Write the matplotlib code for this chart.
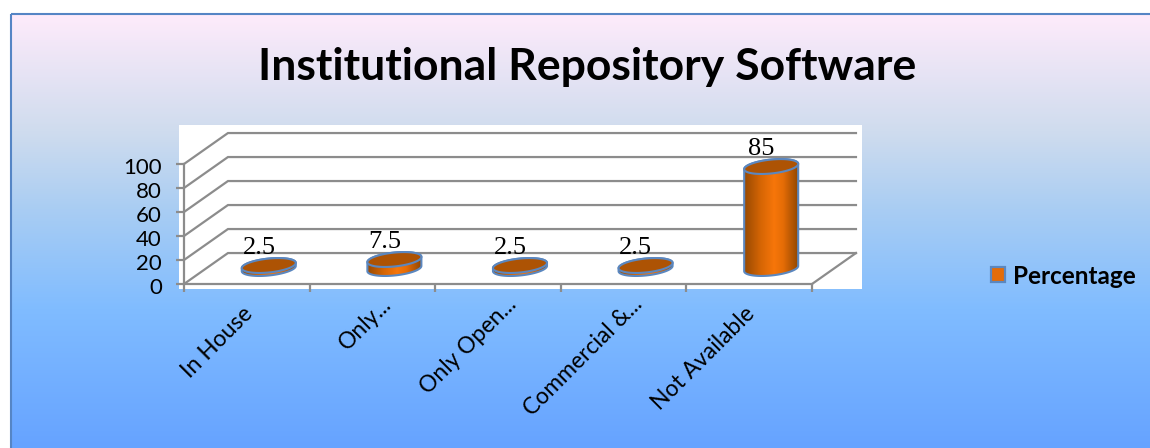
import numpy as np
import matplotlib
matplotlib.use("Agg")
import matplotlib.pyplot as plt
from matplotlib.colors import LinearSegmentedColormap
from matplotlib.patches import Rectangle, Polygon, Patch
from matplotlib.transforms import ScaledTranslation

categories = ["In House", "Only...", "Only Open...", "Commercial &...", "Not Available"]
values = [2.5, 7.5, 2.5, 2.5, 85]
value_labels = ["2.5", "7.5", "2.5", "2.5", "85"]
y_ticks = [0, 20, 40, 60, 80, 100]
series_name = "Percentage"
title = "Institutional Repository Software"

W, H = 1150, 448
SANS = "Lato"
SERIF = "Liberation Serif"
GRID = "#8c8c8c"
EDGE = "#5b87bf"

fig = plt.figure(figsize=(W / 100, H / 100), dpi=100, facecolor="white")

# background panel, in pixel coordinates
bg = fig.add_axes([0, 0, 1, 1])
bg.set_xlim(0, W)
bg.set_ylim(H, 0)
bg.axis("off")
grad = LinearSegmentedColormap.from_list(
    "panel",
    [(0, "#feebfb"), (0.27, "#cfdcee"), (0.45, "#a9cdf3"), (0.68, "#80bcff"), (1, "#66a3ff")],
)
bg.imshow(np.linspace(0, 1, 256)[:, None], cmap=grad, aspect="auto",
          extent=(11, W, H, 14), zorder=1)
bg.set_xlim(0, W)
bg.set_ylim(H, 0)
bg.add_patch(Rectangle((11, 14), W + 20, H + 20, fill=False, ec="#5585c5", lw=1.5, zorder=2))
bg.add_patch(Rectangle((179, 125), 683, 164, fc="white", ec="none", zorder=3))

fig.text(587 / W, 1 - 67 / H, title, ha="center", va="center", fontsize=32,
         fontweight="bold", family=SANS, color="black")

# front plane of the 3-D box
ax = fig.add_axes([184 / W, 1 - 284 / H, 628 / W, 120 / H])
ax.patch.set_alpha(0)
for s in ("top", "right"):
    ax.spines[s].set_visible(False)
for s in ("left", "bottom"):
    ax.spines[s].set_color(GRID)
    ax.spines[s].set_linewidth(1.6)

DX, DY = 0.35, 25.8   # depth vector in data units
X0, X1 = -0.5, len(categories) - 0.5

for v in y_ticks:
    ax.plot([X0, X0 + DX, X1 + DX], [v, v + DY, v + DY], color=GRID, lw=1.6,
            clip_on=False, zorder=1, solid_joinstyle="miter")
ax.plot([X1, X1 + DX], [0, DY], color=GRID, lw=1.6, clip_on=False, zorder=1)

cyl = LinearSegmentedColormap.from_list(
    "cyl", [(0, "#984a02"), (0.3, "#d56504"), (0.55, "#f7760a"), (0.72, "#e56c06"), (1, "#8f4602")])
HW, HH, TILT = 0.215, 5.8, 2.2
t = np.linspace(0, 2 * np.pi, 181)
for i, (v, lab) in enumerate(zip(values, value_labels)):
    cx = i + DX / 2
    base = DY / 2
    top = base + v
    ex = cx + HW * np.cos(t)
    ey = HH * np.sin(t) + TILT * np.cos(t)
    low = (t >= np.pi)
    side = np.r_[
        np.c_[ex[low], base + ey[low]],
        np.c_[ex[~low], top + ey[~low]],
    ]
    body = Polygon(side, closed=True, fc="none", ec=EDGE, lw=1.5, zorder=3, clip_on=False)
    ax.add_patch(body)
    im = ax.imshow(np.linspace(0, 1, 64)[None, :], cmap=cyl, aspect="auto", zorder=2.5,
                   extent=(cx - HW, cx + HW, base - 2 * HH, top + 2 * HH))
    im.set_clip_path(body)
    ax.add_patch(Polygon(np.c_[ex, top + ey], closed=True, fc="#ad5304", ec=EDGE,
                         lw=1.5, zorder=4, clip_on=False))
    ax.annotate(lab, (cx, top), xytext=(-7, 12.5), textcoords="offset points",
                ha="center", va="center", fontsize=19, family=SERIF, color="black",
                zorder=5, annotation_clip=False)

ax.set_xlim(X0, X1)
ax.set_ylim(0, 100)
ax.set_yticks(y_ticks)
ax.set_yticklabels([str(v) for v in y_ticks], fontsize=16, family=SANS, color="black")
ax.tick_params(axis="y", length=6, width=1.6, color=GRID, pad=10)
ytick_shift = ScaledTranslation(0, -2 / 100, fig.dpi_scale_trans)
for lbl in ax.get_yticklabels():
    lbl.set_transform(lbl.get_transform() + ytick_shift)
ax.set_xticks(range(len(categories)))
ax.set_xticklabels(categories, fontsize=16.5, family=SANS, color="black", rotation=45,
                   ha="right", va="top", rotation_mode="anchor")
ax.tick_params(axis="x", which="major", length=0, pad=14)
for lbl, name in zip(ax.get_xticklabels(), categories):
    truncated = name.endswith("...")
    shift = ScaledTranslation((8 if truncated else -5) / 100, (10 if truncated else 0) / 100,
                              fig.dpi_scale_trans)
    lbl.set_transform(lbl.get_transform() + shift)
ax.set_xticks(np.arange(len(categories) + 1) - 0.5, minor=True)
ax.tick_params(axis="x", which="minor", length=6, width=1.6, color=GRID)

fig.legend(handles=[Patch(fc="#e36c09", ec=EDGE, lw=1.6, label=series_name)],
           loc="center left", bbox_to_anchor=(991 / W, 1 - 276 / H), frameon=False,
           handlelength=0.57, handleheight=0.57, handletextpad=0.33, borderpad=0, borderaxespad=0,
           prop={"family": SANS, "weight": "bold", "size": 17.5})

fig.savefig("out.png", dpi=100)
